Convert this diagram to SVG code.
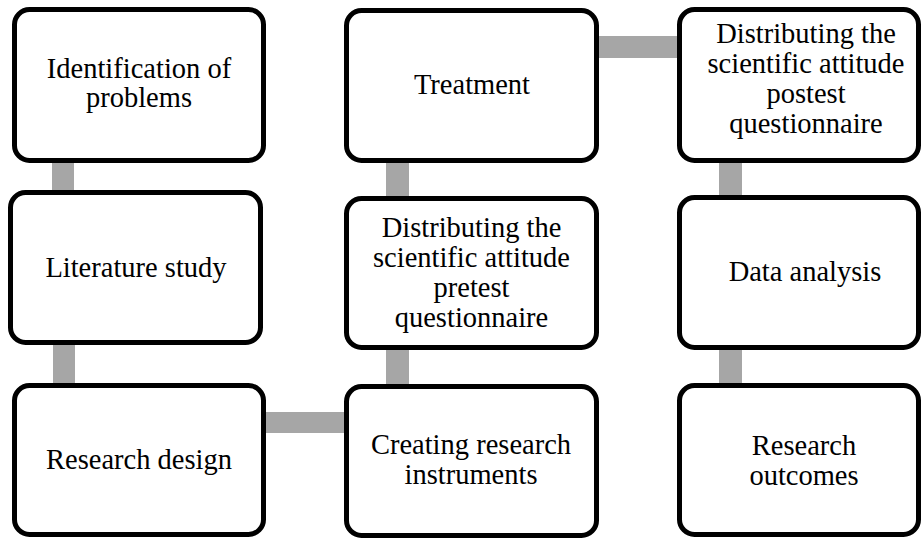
<svg xmlns="http://www.w3.org/2000/svg" width="921" height="540" viewBox="0 0 921 540">
<style>
.box{fill:#fff;stroke:#000;stroke-width:5}
.con{fill:#a6a6a6}
text{font-family:"Liberation Serif","Times New Roman",serif;font-size:28.5px;fill:#000;text-anchor:middle}
</style>
<rect width="921" height="540" fill="#fff"/>
<g id="connectors">
<rect class="con" x="52" y="160" width="22" height="34"/>
<rect class="con" x="53" y="340" width="22" height="46"/>
<rect class="con" x="262" y="412" width="86" height="21"/>
<rect class="con" x="386" y="340" width="23" height="48"/>
<rect class="con" x="386" y="160" width="23" height="40"/>
<rect class="con" x="596" y="36" width="84" height="22"/>
<rect class="con" x="719" y="160" width="23" height="38"/>
<rect class="con" x="719" y="346" width="23" height="40"/>
</g>
<g id="n1"><rect class="box" x="14.5" y="9.5" width="249" height="151" rx="15"/><text x="139" y="78">Identification of</text><text x="139" y="107">problems</text></g>
<g id="n2"><rect class="box" x="10.5" y="192.5" width="250" height="150" rx="15"/><text x="136" y="277">Literature study</text></g>
<g id="n3"><rect class="box" x="14.5" y="385.5" width="249" height="149" rx="15"/><text x="139" y="469">Research design</text></g>
<g id="n4"><rect class="box" x="346.5" y="386.5" width="250" height="149" rx="15"/><text x="471" y="453.5">Creating research</text><text x="471" y="484">instruments</text></g>
<g id="n5"><rect class="box" x="346.5" y="198.5" width="250" height="149" rx="15"/><text x="471.5" y="237">Distributing the</text><text x="471.5" y="267">scientific attitude</text><text x="471.5" y="297">pretest</text><text x="471.5" y="327">questionnaire</text></g>
<g id="n6"><rect class="box" x="346.5" y="10.5" width="250" height="150" rx="15"/><text x="472" y="94">Treatment</text></g>
<g id="n7"><rect class="box" x="679.5" y="9.5" width="239" height="151" rx="15"/><text x="806" y="43">Distributing the</text><text x="806" y="73">scientific attitude</text><text x="806" y="103">postest</text><text x="806" y="133">questionnaire</text></g>
<g id="n8"><rect class="box" x="679.5" y="197.5" width="239" height="150" rx="15"/><text x="805" y="281">Data analysis</text></g>
<g id="n9"><rect class="box" x="679.5" y="385.5" width="239" height="149" rx="15"/><text x="804" y="455">Research</text><text x="804" y="485">outcomes</text></g>
</svg>
